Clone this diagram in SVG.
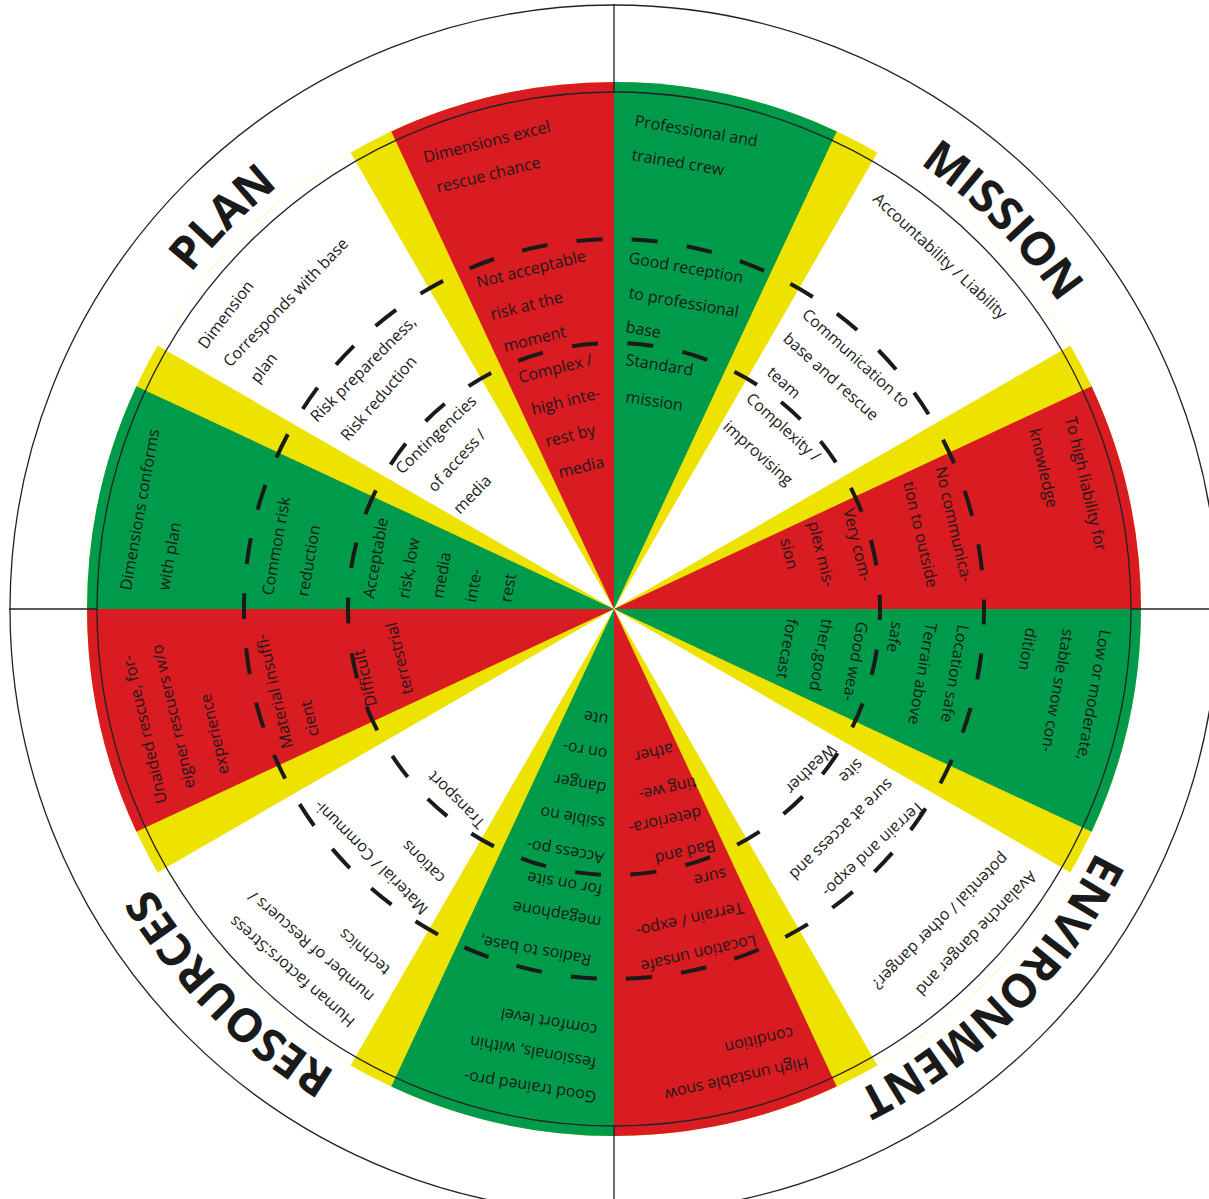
<svg xmlns="http://www.w3.org/2000/svg" width="1209" height="1199" viewBox="0 0 1209 1199">
<style>
.t{font-family:"Open Sans","Liberation Sans",sans-serif;font-size:16px;fill:#1a1a1a}
.lbl{font-family:"Open Sans","Liberation Sans",sans-serif;font-size:46px;font-weight:700;fill:#1a1a1a}
.r{fill:#d91b22}
.g{fill:#009b4a}
.w{fill:#ffffff}
.thin{fill:none;stroke:#222;stroke-width:1.3}
.ringO{fill:none;stroke:#1a1a1a;stroke-width:4;stroke-dasharray:26 29.35;stroke-dashoffset:10.55}
.ringI{fill:none;stroke:#1a1a1a;stroke-width:4;stroke-dasharray:26 29.71;stroke-dashoffset:14.86}
</style>
<defs>
<path id="aM" d="M614 69A540 540 0 0 1 1154 609"/>
<path id="aE" d="M1154 609A540 540 0 0 1 614 1149"/>
<path id="aR" d="M614 1149A540 540 0 0 1 74 609"/>
<path id="aP" d="M74 609A540 540 0 0 1 614 69"/>
</defs>
<rect width="1209" height="1199" fill="#fff"/>
<g id="wheel">
<circle cx="614" cy="609" r="527" fill="#eee300"/>
<path class="g" d="M614 609L614 82A527 527 0 0 1 836.72 131.38Z"/>
<path class="w" d="M614 609L877.5 152.6A527 527 0 0 1 1070.4 345.5Z"/>
<path class="r" d="M614 609L1091.62 386.28A527 527 0 0 1 1141 609Z"/>
<path class="g" d="M614 609L1141 609A527 527 0 0 1 1091.62 831.72Z"/>
<path class="w" d="M614 609L1070.4 872.5A527 527 0 0 1 877.5 1065.4Z"/>
<path class="r" d="M614 609L836.72 1086.62A527 527 0 0 1 614 1136Z"/>
<path class="g" d="M614 609L614 1136A527 527 0 0 1 391.28 1086.62Z"/>
<path class="w" d="M614 609L350.5 1065.4A527 527 0 0 1 157.6 872.5Z"/>
<path class="r" d="M614 609L136.38 831.72A527 527 0 0 1 87 609Z"/>
<path class="g" d="M614 609L87 609A527 527 0 0 1 136.38 386.28Z"/>
<path class="w" d="M614 609L157.6 345.5A527 527 0 0 1 350.5 152.6Z"/>
<path class="r" d="M614 609L391.28 131.38A527 527 0 0 1 614 82Z"/>
<circle class="thin" cx="614" cy="609" r="517"/>
<circle class="thin" cx="614" cy="609" r="604"/>
<path stroke="#222" stroke-width="1.3" fill="none" d="M614 92V4M614 1126V1214M97 609H9M1131 609H1219"/>
</g>
<g id="connectors">
<path class="ringO" d="M984 609A370 370 0 0 1 244 609A370 370 0 0 1 984 609"/>
<path class="ringI" d="M880 609A266 266 0 0 1 348 609A266 266 0 0 1 880 609"/>
</g>
<g id="label-mission"><text class="lbl"><textPath href="#aM" startOffset="50%" text-anchor="middle">MISSION</textPath></text></g>
<g id="label-environment"><text class="lbl"><textPath href="#aE" startOffset="50%" text-anchor="middle">ENVIRONMENT</textPath></text></g>
<g id="label-resources"><text class="lbl"><textPath href="#aR" startOffset="50%" text-anchor="middle">RESOURCES</textPath></text></g>
<g id="label-plan"><text class="lbl"><textPath href="#aP" startOffset="50%" text-anchor="middle">PLAN</textPath></text></g>

<g id="plan-red">
<text class="t" x="425" y="163" transform="rotate(-14 425 163)">Dimensions excel</text>
<text class="t" x="438" y="193" transform="rotate(-14 438 193)">rescue chance</text>
<text class="t" x="478" y="288" transform="rotate(-14 478 288)">Not acceptable</text>
<text class="t" x="492" y="320" transform="rotate(-14 492 320)">risk at the</text>
<text class="t" x="505" y="352" transform="rotate(-14 505 352)">moment</text>
<text class="t" x="520" y="383" transform="rotate(-14 520 383)">Complex /</text>
<text class="t" x="533" y="415" transform="rotate(-14 533 415)">high inte-</text>
<text class="t" x="547" y="447" transform="rotate(-14 547 447)">rest by</text>
<text class="t" x="560" y="478" transform="rotate(-14 560 478)">media</text>
</g>
<g id="mission-green">
<text class="t" x="634" y="126" transform="rotate(9.5 634 126)">Professional and</text>
<text class="t" x="631" y="160" transform="rotate(9.5 631 160)">trained crew</text>
<text class="t" x="628" y="263" transform="rotate(10 628 263)">Good reception</text>
<text class="t" x="628" y="298" transform="rotate(10 628 298)">to professional</text>
<text class="t" x="625" y="332" transform="rotate(10 625 332)">base</text>
<text class="t" x="625" y="365" transform="rotate(9 625 365)">Standard</text>
<text class="t" x="625" y="402" transform="rotate(9 625 402)">mission</text>
</g>
<g id="mission-white">
<text class="t" x="872" y="200" transform="rotate(43 872 200)">Accountability / Liability</text>
<text class="t" x="801" y="316" transform="rotate(42 801 316)">Communication to</text>
<text class="t" x="782" y="340" transform="rotate(42 782 340)">base and rescue</text>
<text class="t" x="766" y="374" transform="rotate(42 766 374)">team</text>
<text class="t" x="745" y="400" transform="rotate(42 745 400)">Complexity /</text>
<text class="t" x="722" y="428" transform="rotate(42 722 428)">improvising</text>
</g>
<g id="mission-red">
<text class="t" x="1065" y="418" transform="rotate(77 1065 418)">To high liability for</text>
<text class="t" x="1029" y="430" transform="rotate(77 1029 430)">knowledge</text>
<text class="t" x="935" y="468" transform="rotate(77 935 468)">No communica-</text>
<text class="t" x="903" y="483" transform="rotate(77 903 483)">tion to outside</text>
<text class="t" x="843" y="510" transform="rotate(76 843 510)">Very com-</text>
<text class="t" x="808" y="523" transform="rotate(76 808 523)">plex mis-</text>
<text class="t" x="780" y="540" transform="rotate(76 780 540)">sion</text>
</g>
<g id="environment-green">
<text class="t" x="1100" y="629" transform="rotate(100 1100 629)">Low or moderate,</text>
<text class="t" x="1063" y="628" transform="rotate(100 1063 628)">stable snow con-</text>
<text class="t" x="1026" y="627" transform="rotate(100 1026 627)">dition</text>
<text class="t" x="958" y="624" transform="rotate(100 958 624)">Location safe</text>
<text class="t" x="926" y="622" transform="rotate(100 926 622)">Terrain above</text>
<text class="t" x="892" y="621" transform="rotate(100 892 621)">safe</text>
<text class="t" x="857" y="621" transform="rotate(100 857 621)">Good wea-</text>
<text class="t" x="822" y="618" transform="rotate(100 822 618)">ther,good</text>
<text class="t" x="787" y="618" transform="rotate(100 787 618)">forecast</text>
</g>
<g id="environment-white">
<text class="t" x="1030" y="870" transform="rotate(134 1030 870)">Avalanche danger and</text>
<text class="t" x="1002" y="852" transform="rotate(135 1002 852)">potential / other danger?</text>
<text class="t" x="918" y="800" transform="rotate(137 918 800)">Terrain and expo-</text>
<text class="t" x="887" y="778" transform="rotate(136 887 778)">sure at access and</text>
<text class="t" x="857" y="758" transform="rotate(136 857 758)">site</text>
<text class="t" x="830" y="743" transform="rotate(136 830 743)">Weather</text>
</g>
<g id="environment-red">
<text class="t" x="807" y="1057" transform="rotate(167 807 1057)">High unstable snow</text>
<text class="t" x="792" y="1027" transform="rotate(167 792 1027)">condition</text>
<text class="t" x="755" y="935" transform="rotate(167 755 935)">Location unsafe</text>
<text class="t" x="742" y="902" transform="rotate(167 742 902)">Terrain / expo-</text>
<text class="t" x="725" y="868" transform="rotate(167 725 868)">sure</text>
<text class="t" x="714" y="840" transform="rotate(167 714 840)">Bad and</text>
<text class="t" x="700" y="807" transform="rotate(167 700 807)">deteriora-</text>
<text class="t" x="695" y="777" transform="rotate(167 695 777)">ting we-</text>
<text class="t" x="672" y="743" transform="rotate(167 672 743)">ather</text>
</g>
<g id="resources-green">
<text class="t" x="597" y="1092" transform="rotate(189 597 1092)">Good trained pro-</text>
<text class="t" x="597" y="1058" transform="rotate(190 597 1058)">fessionals, within</text>
<text class="t" x="598" y="1025" transform="rotate(190 598 1025)">comfort level</text>
<text class="t" x="592" y="955" transform="rotate(190 592 955)">Radios to base,</text>
<text class="t" x="602" y="917" transform="rotate(190 602 917)">megaphone</text>
<text class="t" x="603" y="885" transform="rotate(190 603 885)">for on site</text>
<text class="t" x="605" y="853" transform="rotate(190 605 853)">Access po-</text>
<text class="t" x="606" y="818" transform="rotate(190 606 818)">ssible no</text>
<text class="t" x="607" y="783" transform="rotate(190 607 783)">danger</text>
<text class="t" x="608" y="749" transform="rotate(190 608 749)">on ro-</text>
<text class="t" x="609" y="715" transform="rotate(190 609 715)">ute</text>
</g>
<g id="resources-white">
<text class="t" x="356" y="1020" transform="rotate(221 356 1020)">Human factors:Stress</text>
<text class="t" x="375" y="995" transform="rotate(221 375 995)">number of Rescuers /</text>
<text class="t" x="391" y="968" transform="rotate(221 391 968)">technics</text>
<text class="t" x="429" y="908" transform="rotate(225 429 908)">Material / Communi-</text>
<text class="t" x="446" y="877" transform="rotate(225 446 877)">cations</text>
<text class="t" x="486" y="822" transform="rotate(225 486 822)">Transport</text>
</g>
<g id="resources-red">
<text class="t" x="167" y="802" transform="rotate(257 167 802)">Unaided rescue, for-</text>
<text class="t" x="195" y="787" transform="rotate(257 195 787)">eigner rescuers w/o</text>
<text class="t" x="229" y="773" transform="rotate(257 229 773)">experience</text>
<text class="t" x="293" y="747" transform="rotate(257 293 747)">Material insuffi-</text>
<text class="t" x="319" y="735" transform="rotate(257 319 735)">cient</text>
<text class="t" x="377" y="705" transform="rotate(257 377 705)">Difficult</text>
<text class="t" x="413" y="693" transform="rotate(257 413 693)">terrestrial</text>
</g>
<g id="plan-green">
<text class="t" x="131" y="591" transform="rotate(280 131 591)">Dimensions conforms</text>
<text class="t" x="169" y="591" transform="rotate(280 169 591)">with plan</text>
<text class="t" x="273" y="596" transform="rotate(280 273 596)">Common risk</text>
<text class="t" x="308" y="597" transform="rotate(280 308 597)">reduction</text>
<text class="t" x="374" y="599" transform="rotate(280 374 599)">Acceptable</text>
<text class="t" x="409" y="599" transform="rotate(280 409 599)">risk, low</text>
<text class="t" x="443" y="599" transform="rotate(280 443 599)">media</text>
<text class="t" x="476" y="603" transform="rotate(280 476 603)">inte-</text>
<text class="t" x="511" y="603" transform="rotate(280 511 603)">rest</text>
</g>
<g id="plan-white">
<text class="t" x="206" y="350" transform="rotate(-53 206 350)">Dimension</text>
<text class="t" x="230" y="368" transform="rotate(-46 230 368)">Corresponds with base</text>
<text class="t" x="258" y="384" transform="rotate(-52 258 384)">plan</text>
<text class="t" x="317" y="423" transform="rotate(-45 317 423)">Risk preparedness,</text>
<text class="t" x="348" y="442" transform="rotate(-49 348 442)">Risk reduction</text>
<text class="t" x="402" y="475" transform="rotate(-44 402 475)">Contingencies</text>
<text class="t" x="435" y="493" transform="rotate(-48 435 493)">of access /</text>
<text class="t" x="460" y="515" transform="rotate(-46 460 515)">media</text>
</g>
</svg>
